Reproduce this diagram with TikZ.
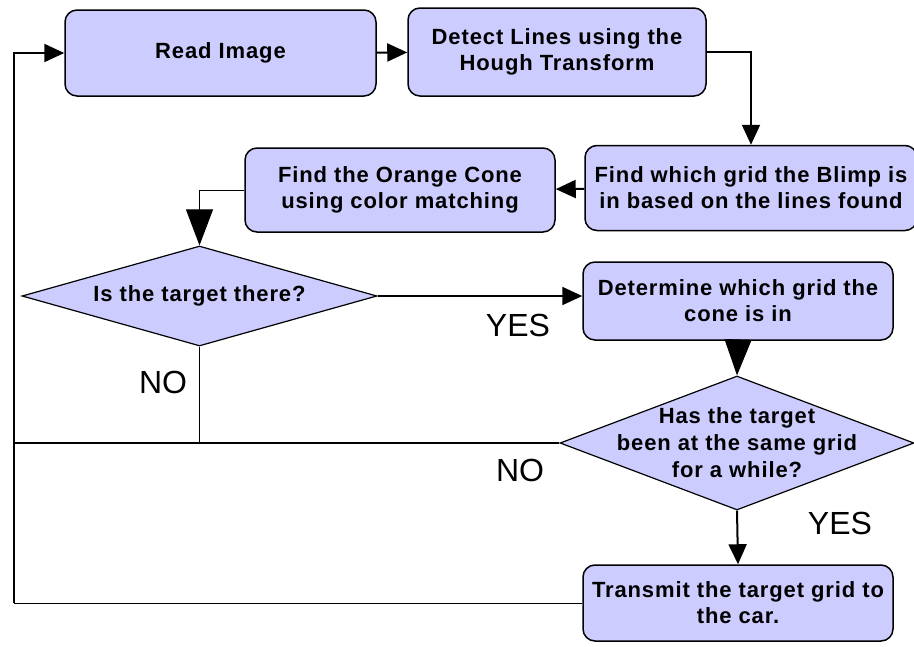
\documentclass[tikz,border=0pt]{standalone}
\usepackage{fontspec}
\setmainfont{Liberation Sans}
\newfontfamily\boxfont[LetterSpace=4]{Liberation Sans}
\usetikzlibrary{positioning,shapes.geometric,arrows.meta}

\definecolor{boxfill}{HTML}{CCCCFF}

\tikzset{
  stepbox/.style={rectangle,rounded corners=12pt,draw=black,line width=1.5pt,fill=boxfill,
    align=center,inner sep=0pt,font=\boxfont\bfseries\fontsize{22}{26}\selectfont},
  decision/.style={diamond,draw=black,line width=1.2pt,fill=boxfill,inner sep=0pt},
  dtext/.style={align=center,font=\boxfont\bfseries\fontsize{22}{27}\selectfont},
  answer/.style={font=\fontsize{32}{36}\selectfont},
  flow/.style={line width=2pt,-{Triangle[length=20pt,width=18pt]}},
  bigflow/.style={line width=1pt,-{Triangle[length=36pt,width=27pt]}},
  plain/.style={line width=2pt},
  thinline/.style={line width=1pt}
}

\begin{document}
\begin{tikzpicture}[x=1pt,y=-1pt]
        \useasboundingbox (0,0) rectangle (914,646);
        \node[stepbox,minimum width=311pt,minimum height=86pt] (read) at (220.5,53) {Read Image};
        \node[stepbox,minimum width=298pt,minimum height=88pt] (detect) at (557,52) {Detect Lines using the\\Hough Transform};
        \node[stepbox,minimum width=332pt,minimum height=85pt] (blimp) at (751,188) {Find which grid the Blimp is\\in based on the lines found};
        \node[stepbox,minimum width=310pt,minimum height=84pt] (orange) at (400,190) {Find the Orange Cone\\using color matching};
        \node[decision,minimum width=355pt,minimum height=100pt,
              label={[dtext]center:Is the target there?}] (q1) at (199.5,296) {};
        \node[stepbox,minimum width=310pt,minimum height=78pt] (det) at (738,301) {Determine which grid the\\cone is in};
        \node[decision,minimum width=354pt,minimum height=134pt,
              label={[dtext]center:Has the target\\been at the same grid\\for a while?}] (q2) at (737,443) {};
        \node[stepbox,minimum width=310pt,minimum height=76pt] (trans) at (738,603) {Transmit the target grid to\\the car.};
        \coordinate (loop) at (14,443);
        \node[answer] (yes1) at (518,325) {YES};
        \node[answer] (no1) at (163,382) {NO};
        \node[answer] (no2) at (520,470) {NO};
        \node[answer] (yes2) at (840,523) {YES};
        \draw[flow] (read) -- (detect);
        \draw[flow] (detect.east) -| (blimp.north);
        \draw[flow] (blimp) -- (orange);
        \draw[bigflow] (orange.west) -| (q1.north);
        \draw[flow] (q1.east) -- (q1.east -| det.west);
        \draw[bigflow] (det.south) -- (q2.north);
        \draw[flow] (q2.south) -- (trans.north);
        \draw[thinline] (q1.south) -- (q1.south |- loop);
        \draw[plain] (q2.west) -- (loop);
        \draw[thinline] (trans.west) -- (trans.west -| loop);
        \draw[flow] (trans.west -| loop) -- (loop) |- (read.west);
      \end{tikzpicture}
\end{document}
